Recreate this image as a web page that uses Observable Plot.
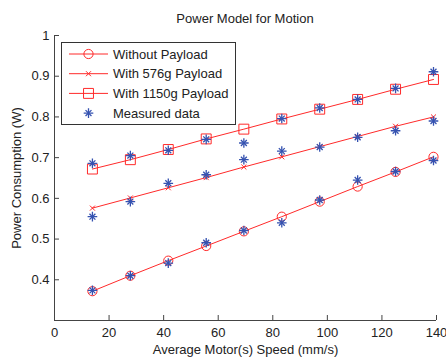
<!DOCTYPE html>
<html>
<head>
<meta charset="utf-8">
<script src="https://cdn.jsdelivr.net/npm/d3@7"></script>
<script src="https://cdn.jsdelivr.net/npm/@observablehq/plot@0.6"></script>
<style>
  html, body { margin: 0; padding: 0; background: #fff; }
  #wrap { position: relative; width: 446px; height: 358px; font-family: "Liberation Sans", Arial, sans-serif; color: #222; }
  #title { position: absolute; left: 54px; width: 382px; top: 11px; text-align: center; font-size: 13px; line-height: 16px; }
  #legend { position: absolute; left: 61px; top: 42px; width: 173px; height: 81px; border: 1.6px solid #333; background: #fff; }
  #legend svg { position: absolute; left: 0; top: 0; }
  #legend text { font-family: "Liberation Sans", Arial, sans-serif; font-size: 13px; fill: #222; }
</style>
</head>
<body>
<div id="wrap">
  <div id="chart"></div>
  <div id="title">Power Model for Motion</div>
  <div id="legend"></div>
</div>
<script>
const speeds = [13.9, 27.8, 41.7, 55.6, 69.4, 83.3, 97.2, 111.1, 125.0, 138.9];
const withoutPayload = [0.372, 0.410, 0.447, 0.483, 0.519, 0.555, 0.592, 0.629, 0.665, 0.702];
const with576Payload = [0.576, 0.601, 0.626, 0.651, 0.677, 0.702, 0.727, 0.752, 0.777, 0.800];
const with1150Payload = [0.672, 0.695, 0.720, 0.746, 0.770, 0.795, 0.819, 0.843, 0.868, 0.892];
const measuredHigh = [0.686, 0.705, 0.718, 0.745, 0.736, 0.796, 0.822, 0.843, 0.870, 0.911];
const measuredMid = [0.555, 0.592, 0.637, 0.658, 0.695, 0.716, 0.726, 0.750, 0.766, 0.790];
const measuredLow = [0.374, 0.410, 0.441, 0.491, 0.521, 0.540, 0.596, 0.645, 0.666, 0.693];
const seriesNames = ["Without Payload", "With 576g Payload", "With 1150g Payload"];
const measuredName = "Measured data";
const xTicks = [0, 20, 40, 60, 80, 100, 120, 140];
const yTicks = [0.4, 0.5, 0.6, 0.7, 0.8, 0.9, 1];

const RED = "#ff2a2a";
const BLUE = "#3552b0";

const model = [];
[withoutPayload, with576Payload, with1150Payload].forEach((arr, i) => {
  arr.forEach((v, j) => model.push({series: seriesNames[i], x: speeds[j], y: v}));
});
const measured = [];
[measuredHigh, measuredMid, measuredLow].forEach(arr => {
  arr.forEach((v, j) => measured.push({x: speeds[j], y: v}));
});

const chart = Plot.plot({
  width: 446,
  height: 358,
  marginLeft: 54,
  marginRight: 10,
  marginTop: 35,
  marginBottom: 38,
  style: {fontFamily: "Liberation Sans, Arial, sans-serif", fontSize: "13px", color: "#222", background: "#fff"},
  x: {domain: [0, 140]},
  y: {domain: [0.3, 1]},
  marks: [
    Plot.ruleX([0], {stroke: "#444", strokeWidth: 1}),
    Plot.ruleY([0.3], {stroke: "#444", strokeWidth: 1}),
    Plot.axisX(xTicks, {tickSize: -5, tickPadding: 12, stroke: "#444", label: "Average Motor(s) Speed (mm/s)", labelAnchor: "center", labelArrow: "none", labelOffset: 33}),
    Plot.axisY(yTicks, {tickSize: -5, tickPadding: 10, stroke: "#444", tickFormat: d => `${d}`, label: "Power Consumption (W)", labelAnchor: "center", labelArrow: "none", labelOffset: 43}),
    Plot.line(model, {x: "x", y: "y", z: "series", stroke: RED, strokeWidth: 1}),
    Plot.dot(model.filter(d => d.series === seriesNames[0]), {x: "x", y: "y", symbol: "circle", r: 4.6, stroke: RED, fill: "none", strokeWidth: 1}),
    Plot.dot(model.filter(d => d.series === seriesNames[1]), {x: "x", y: "y", symbol: "times", r: 2.4, stroke: RED, fill: "none", strokeWidth: 1}),
    Plot.dot(model.filter(d => d.series === seriesNames[2]), {x: "x", y: "y", symbol: "square", r: 5.6, stroke: RED, fill: "none", strokeWidth: 1}),
    Plot.dot(measured, {x: "x", y: "y", symbol: "plus", r: 3.2, stroke: BLUE, strokeWidth: 1.3}),
    Plot.dot(measured, {x: "x", y: "y", symbol: "times", r: 2.8, stroke: BLUE, strokeWidth: 1.3})
  ]
});
document.getElementById("chart").appendChild(chart);

// Legend
const legendItems = [
  {name: seriesNames[0], symbol: d3.symbolCircle, size: Math.PI * 4.6 * 4.6, color: RED, line: true},
  {name: seriesNames[1], symbol: d3.symbolTimes, size: Math.PI * 2.4 * 2.4, color: RED, line: true},
  {name: seriesNames[2], symbol: d3.symbolSquare, size: Math.PI * 5.6 * 5.6, color: RED, line: true},
  {name: measuredName, symbol: null, color: BLUE, line: false}
];
const lsvg = d3.create("svg").attr("width", 173).attr("height", 81);
legendItems.forEach((it, i) => {
  const cy = 11 + i * 19.7;
  const g = lsvg.append("g");
  if (it.line) g.append("line").attr("x1", 7).attr("x2", 46).attr("y1", cy).attr("y2", cy).attr("stroke", it.color).attr("stroke-width", 1);
  if (it.symbol) {
    g.append("path").attr("d", d3.symbol(it.symbol, it.size)()).attr("transform", `translate(26.5,${cy})`).attr("fill", "none").attr("stroke", it.color).attr("stroke-width", 1);
  } else {
    g.append("path").attr("d", d3.symbol(d3.symbolPlus, Math.PI * 3.2 * 3.2)()).attr("transform", `translate(26.5,${cy})`).attr("fill", "none").attr("stroke", it.color).attr("stroke-width", 1.3);
    g.append("path").attr("d", d3.symbol(d3.symbolTimes, Math.PI * 2.8 * 2.8)()).attr("transform", `translate(26.5,${cy})`).attr("fill", "none").attr("stroke", it.color).attr("stroke-width", 1.3);
  }
  g.append("text").attr("x", 51).attr("y", cy).attr("dy", "0.35em").text(it.name);
});
document.getElementById("legend").appendChild(lsvg.node());
</script>
</body>
</html>
